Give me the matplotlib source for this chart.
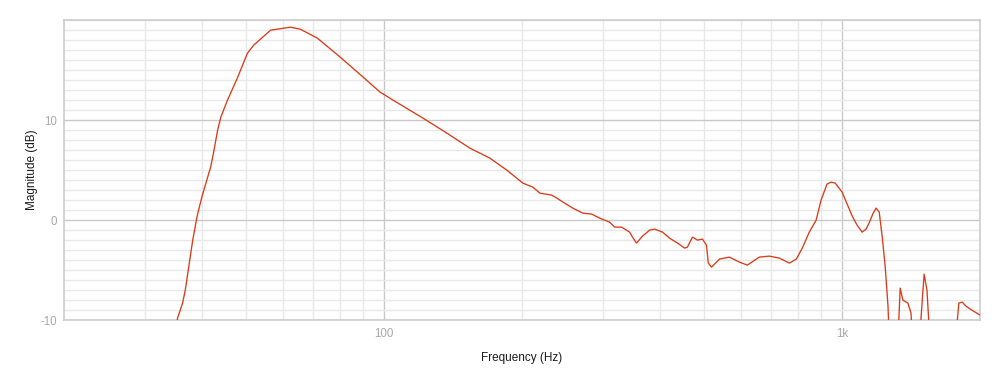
import numpy as np
import matplotlib
matplotlib.use('Agg')
import matplotlib.pyplot as plt
from matplotlib.ticker import FixedLocator, NullFormatter

plt.rcParams['font.family'] = ['Liberation Sans', 'DejaVu Sans']
plt.rcParams['axes.unicode_minus'] = False

# frequency response (Hz, dB)
freq = [35.2, 35.4, 36.3, 36.8, 38.2, 39.1, 40.1, 41.8, 42.4, 43.3, 44.0,
        45.5, 47.9, 50.3, 51.9, 56.5, 62.4, 65.6, 71.5, 80.2, 90.0, 98.0,
        104.6, 121.6, 137.1, 153.9, 170.2, 176.3, 185.3, 200.9, 211.2, 218.8,
        232.3, 238.3, 247.8, 258.2, 271.4, 284.0, 295.6, 310.6, 318.6, 330.0,
        343.6, 348.6, 355.6, 366.6, 379.9, 389.4, 405.5, 419.8, 437.4, 452.9,
        459.4, 471.2, 483.2, 495.5, 505.6, 510.3, 518.6, 540, 567.5, 596.8,
        621, 659.2, 693.4, 729.4, 767.3, 794.3, 818.5, 847.7, 877.5, 899.5,
        926.7, 946, 966, 1000, 1052, 1078, 1106, 1128, 1145, 1169, 1186,
        1205, 1222, 1241, 1259, 1273, 1318, 1339, 1357, 1392, 1414, 1429,
        1465, 1510, 1532, 1563, 1754, 1798, 1830, 1863, 1919, 1968, 2000]
mag = [-10.5, -9.8, -8.3, -7.0, -2.0, 0.5, 2.5, 5.3, 6.7, 9.0, 10.3,
       12.0, 14.3, 16.7, 17.5, 19.0, 19.3, 19.1, 18.2, 16.3, 14.3, 12.8,
       12.0, 10.2, 8.7, 7.2, 6.2, 5.7, 5.0, 3.7, 3.3, 2.7,
       2.5, 2.2, 1.7, 1.2, 0.7, 0.6, 0.2, -0.2, -0.7, -0.7,
       -1.2, -1.7, -2.3, -1.6, -1.0, -0.9, -1.2, -1.8, -2.3, -2.8,
       -2.7, -1.7, -2.0, -1.9, -2.5, -4.3, -4.7, -3.9, -3.7, -4.2,
       -4.5, -3.7, -3.6, -3.8, -4.3, -3.9, -2.8, -1.2, 0.0, 2.0,
       3.6, 3.8, 3.7, 2.8, 0.4, -0.5, -1.2, -0.9, -0.3, 0.7, 1.2,
       0.8, -1.5, -4.5, -8.5, -14, -14, -6.8, -8.0, -8.3, -9.3, -14,
       -14, -5.4, -7.0, -14, -14, -8.3, -8.2, -8.6, -9.0, -9.3, -9.5]

fig = plt.figure(figsize=(10, 3.88), dpi=100)
ax = fig.add_axes([0.064, 0.175, 0.916, 0.773])

ax.semilogx(freq, mag, color='#d93b17', linewidth=0.95, zorder=3)
ax.set_xlim(20, 2000)
ax.set_ylim(-10, 20)

ax.xaxis.set_major_locator(FixedLocator([100, 1000]))
ax.set_xticklabels(['100', '1k'])
ax.xaxis.set_minor_locator(FixedLocator([30, 40, 50, 60, 70, 80, 90,
                                         200, 300, 400, 500, 600, 700, 800, 900]))
ax.xaxis.set_minor_formatter(NullFormatter())
ax.set_yticks([-10, 0, 10])
ax.yaxis.set_minor_locator(FixedLocator(np.arange(-10, 21, 1)))

ax.grid(which='major', color='#c8c8c8', linewidth=1.0)
ax.grid(which='minor', color='#e8e8e8', linewidth=1.0)
ax.set_axisbelow(True)
ax.tick_params(which='both', length=0, colors='#a8a8a8', labelsize=8.3)
ax.tick_params(axis='x', pad=6)
ax.tick_params(axis='y', pad=5)
for s in ax.spines.values():
    s.set_color('#cccccc')
    s.set_linewidth(1.2)

ax.set_xlabel('Frequency (Hz)', fontsize=8.5, color='#1a1a1a', labelpad=8)
ax.set_ylabel('Magnitude (dB)', fontsize=8.5, color='#1a1a1a', labelpad=2)

fig.savefig('out.png', dpi=100)
